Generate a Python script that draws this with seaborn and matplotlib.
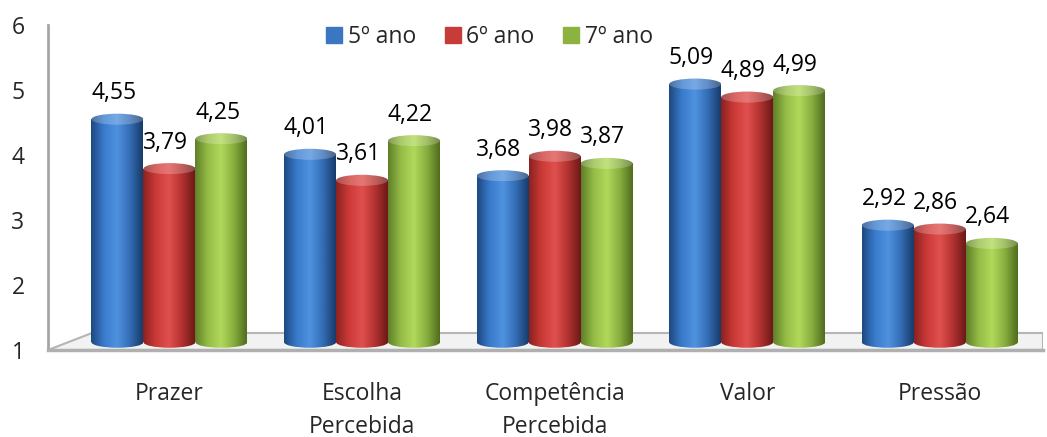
import numpy as np
import pandas as pd
import matplotlib
matplotlib.use("Agg")
import matplotlib.pyplot as plt
import seaborn as sns
from matplotlib.patches import Ellipse, Polygon
from matplotlib.colors import LinearSegmentedColormap, to_rgb
from matplotlib.lines import Line2D

categories = ["Prazer", "Escolha\nPercebida", "Competência\nPercebida", "Valor", "Pressão"]
series = ["5º ano", "6º ano", "7º ano"]
ano5 = [4.55, 4.01, 3.68, 5.09, 2.92]
ano6 = [3.79, 3.61, 3.98, 4.89, 2.86]
ano7 = [4.25, 4.22, 3.87, 4.99, 2.64]
yticks = [1, 2, 3, 4, 5, 6]

base_colors = ["#3a76c2", "#c53c39", "#8cb33f"]
shades = [
    ["#1d4880", "#3a7bcc", "#4f92df", "#346db5", "#173a68"],
    ["#8a2220", "#cb3a37", "#e0504e", "#b33230", "#6b1918"],
    ["#5f7f28", "#95bd47", "#b1d95b", "#88ae3e", "#4f6c1d"],
]

sns.set_theme(style="white")
plt.rcParams["font.family"] = ["Open Sans", "DejaVu Sans"]
FS = 16.5

rows = []
for s, vals in zip(series, [ano5, ano6, ano7]):
    for c, v in zip(categories, vals):
        rows.append({"cat": c, "serie": s, "val": v})
df = pd.DataFrame(rows)

fig = plt.figure(figsize=(10.47, 4.37), dpi=100)
ax = fig.add_axes([0.046, 0.199, 0.950, 0.744])

sns.barplot(data=df, x="cat", y="val", hue="serie", palette=base_colors,
            width=0.81, saturation=1, ax=ax, legend=False, zorder=3)
bars = list(ax.patches)

xmin, xmax = -0.63, 4.535
ymin, ymax = 1, 6
base = 1.12
eh = 0.17

# floor
floor = Polygon([(xmin, 1.0), (xmax, 1.0), (xmax, 1.26), (xmin + 0.23, 1.26)],
                closed=True, facecolor="#f2f2f2", edgecolor="#b5b5b5", lw=1.5, zorder=1)
ax.add_patch(floor)

grad = np.linspace(0, 1, 256).reshape(1, -1)
ncat = len(categories)
for k, patch in enumerate(bars[:ncat * len(series)]):
    si = k // ncat
    ci = k % ncat
    vals = [ano5, ano6, ano7][si]
    x = patch.get_x()
    w = patch.get_width()
    h = patch.get_height()
    patch.set_facecolor("none")
    patch.set_edgecolor("none")
    cmap = LinearSegmentedColormap.from_list("c%d" % si, shades[si])
    im = ax.imshow(grad, extent=[x, x + w, base, h], aspect="auto", cmap=cmap,
                   interpolation="bicubic", zorder=3, origin="lower")
    im.set_clip_path(patch)
    eb = Ellipse((x + w / 2, base), w, eh, facecolor="none", edgecolor="none", zorder=3)
    ax.add_patch(eb)
    imb = ax.imshow(grad, extent=[x, x + w, base - eh / 2, base], aspect="auto", cmap=cmap,
                    interpolation="bicubic", zorder=3, origin="lower")
    imb.set_clip_path(eb)
    light = [tuple(0.78 * np.array(to_rgb(c)) + 0.22) for c in shades[si]]
    cmap_t = LinearSegmentedColormap.from_list("t%d" % si, light)
    et = Ellipse((x + w / 2, h), w, eh, facecolor="none", edgecolor="none", zorder=4)
    ax.add_patch(et)
    imt = ax.imshow(grad, extent=[x, x + w, h - eh / 2, h + eh / 2], aspect="auto", cmap=cmap_t,
                    interpolation="bicubic", zorder=4, origin="lower")
    imt.set_clip_path(et)
    ax.text(x + w / 2 - 0.02, h + 0.4, f"{vals[ci]:.2f}".replace(".", ","),
            ha="center", va="center", fontsize=FS, color="#000000", zorder=5)

ax.set_xlim(xmin, xmax)
ax.set_ylim(ymin, ymax)
ax.set_yticks(yticks)
ax.set_yticklabels([str(t) for t in yticks], fontsize=FS)
ax.set_xticks(range(ncat))
ax.set_xticklabels(categories, fontsize=FS, linespacing=1.5)
ax.tick_params(axis="y", length=0, pad=17)
ax.tick_params(axis="x", length=0, pad=23)
ax.set_xlabel("")
ax.set_ylabel("")

for s in ["top", "right"]:
    ax.spines[s].set_visible(False)
ax.spines["left"].set_color("#a6a6a6")
ax.spines["left"].set_linewidth(2)
ax.spines["bottom"].set_color("#b0b0b0")
ax.spines["bottom"].set_linewidth(2.5)

handles = [Line2D([0], [0], marker="s", linestyle="none", markersize=11,
                  markerfacecolor=c, markeredgecolor=c) for c in base_colors]
fig.legend(handles, series, loc="center", bbox_to_anchor=(0.466, 0.915), ncol=3,
           frameon=False, fontsize=FS, handletextpad=0.1, columnspacing=1.1,
           handlelength=1.0)

fig.savefig("out.png", dpi=100)
